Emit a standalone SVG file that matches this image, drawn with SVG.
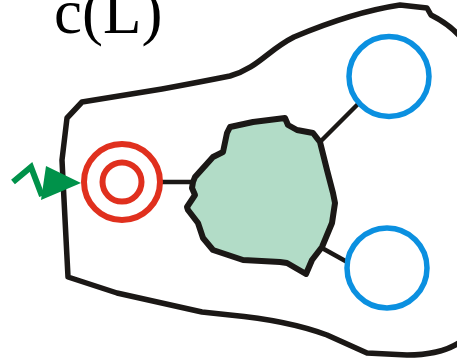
<svg xmlns="http://www.w3.org/2000/svg" width="457" height="361" viewBox="0 0 457 361">
<style>
.outline{fill:none;stroke:#1b1816;stroke-width:5.5;stroke-linejoin:round;stroke-linecap:round}
.conn{fill:none;stroke:#1b1816;stroke-width:4.5}
.red{fill:none;stroke:#e0301e;stroke-width:6}
.blue{fill:none;stroke:#0b90e0;stroke-width:5.5}
.blob{fill:#b2dcc7;stroke:#1b1816;stroke-width:6;stroke-linejoin:round}
.green{fill:#00924a}
.label{font-family:"Liberation Serif","Times New Roman",serif;font-size:63px;fill:#000}
</style>
<rect width="457" height="361" fill="#fff"/>
<g id="title"><text class="label" x="54" y="33">c(L)</text></g>
<g id="region">
<path class="outline" d="M82,102 L162,89 Q200,82 230,76 C258,68 268,50 294,37 C320,26 360,11 400,5 L427,8 L431,15 C445,22 455,30 463,40 L463,340 C450,350 430,355 407,355 L367,353 L327,335 C300,325 262,318 230,315 L202,312 L117,293 L68,277 L63,180 L62,160 L67,118 Z"/>
</g>
<g id="connectors">
<line class="conn" x1="160" y1="182" x2="194" y2="182"/>
<line class="conn" x1="321" y1="141" x2="358" y2="104"/>
<line class="conn" x1="322" y1="248" x2="349" y2="263"/>
</g>
<g id="source">
<polyline points="13,182 31,167 42,196" fill="none" stroke="#00924a" stroke-width="6" stroke-linejoin="miter"/>
<polygon class="green" points="46,166 81,183 41,200"/>
</g>
<g id="red-node">
<circle class="red" cx="122" cy="182" r="38"/>
<circle class="red" cx="122" cy="182" r="19.5"/>
</g>
<g id="blob">
<path class="blob" d="M193,182 L195,177 L213,157 L223,152 L227,133 L230,127 L253,122 L285,118 L288,125 L297,130 L313,133 L320,142 L327,170 L333,193 L335,203 L332,223 L322,247 L312,260 L306,274 L287,263 L280,262 L243,260 L213,250 L203,238 L198,223 L188,210 L187,207 L195,195 L192,188 Z"/>
</g>
<g id="blue-top"><circle class="blue" cx="389" cy="76.5" r="40"/></g>
<g id="blue-bottom"><circle class="blue" cx="387" cy="268" r="40"/></g>
</svg>
